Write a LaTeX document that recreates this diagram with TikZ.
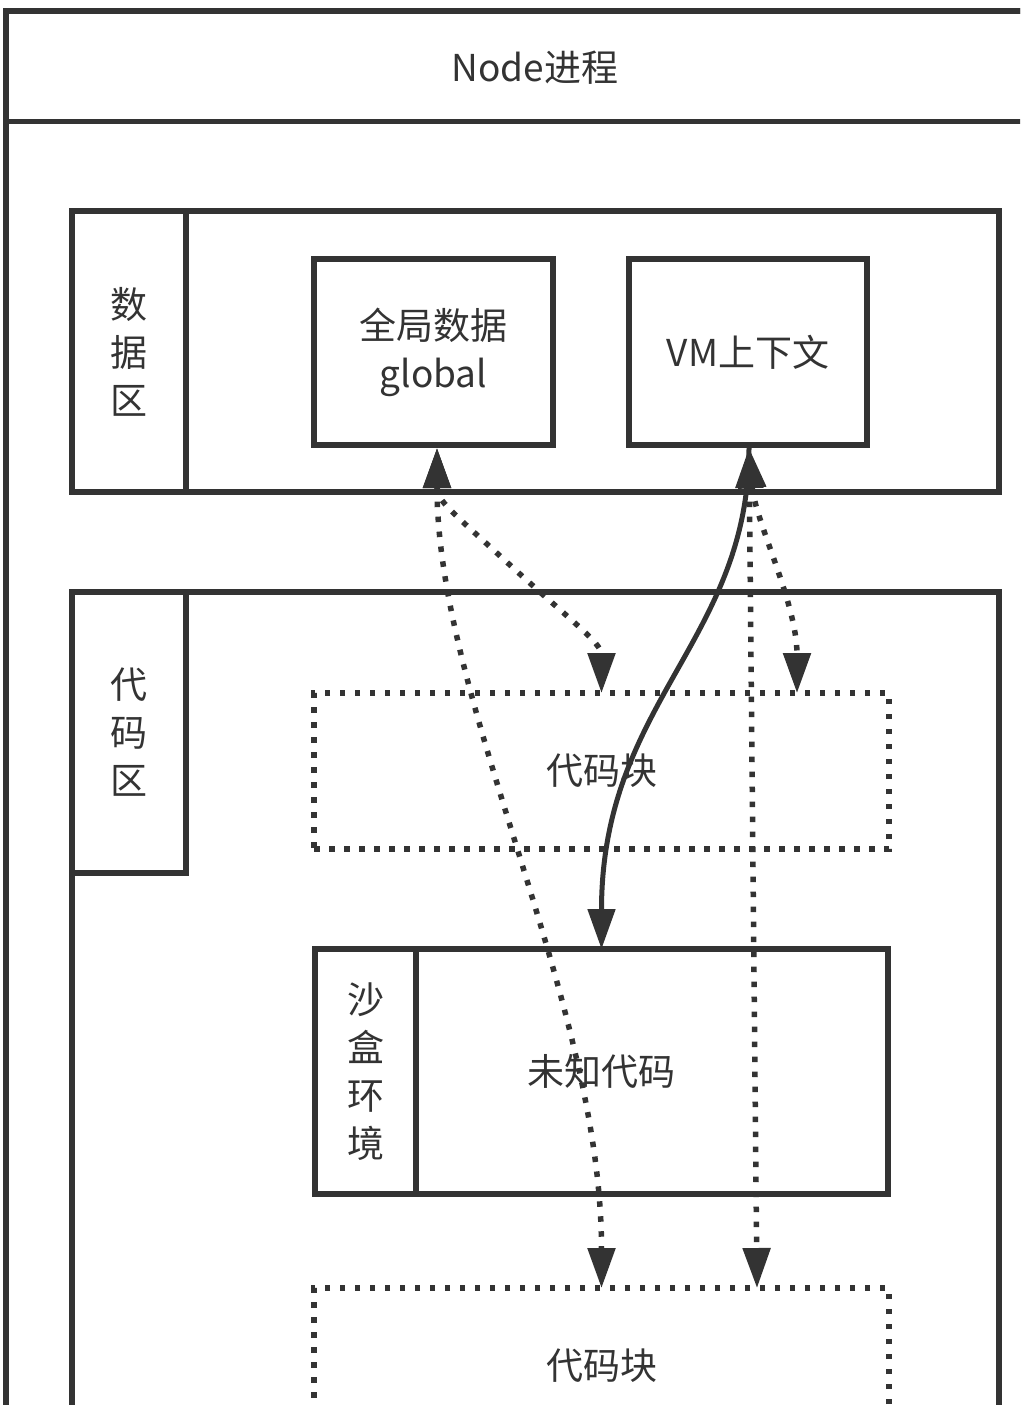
\documentclass[tikz,border=0pt]{standalone}
\usepackage{fontspec}
\setmainfont{Noto Sans CJK SC}
\usetikzlibrary{arrows.meta,calc}
\definecolor{ink}{HTML}{333333}
\begin{document}
\begin{tikzpicture}[x=1pt,y=-1pt,
  box/.style={draw=ink,line width=5.5pt,inner sep=0pt,outer sep=0pt,anchor=north west},
  dbox/.style={draw=ink,line width=5.5pt,dash pattern=on 5.5pt off 9.5pt,inner sep=0pt,outer sep=0pt,anchor=north west},
  lbl/.style={text=ink,font=\fontsize{37}{48}\selectfont,align=center,inner sep=0pt},
  tipT/.tip={Triangle[length=40pt,width=27pt]},
  dline/.style={draw=ink,line width=5.5pt,dash pattern=on 5.5pt off 9.5pt,{tipT}-{tipT}},
  sline/.style={draw=ink,line width=5pt,-{tipT}}
]
\useasboundingbox (0,0) rectangle (1020,1405);
\clip (0,0) rectangle (1020,1405);
% outer Node process box
\node[box,minimum width=1040pt,minimum height=1500pt] (outer) at (6,11) {};
\node[box,minimum width=1040pt,minimum height=110.5pt] (head) at (6,11) {};
\node[lbl] (title) at (535,68) {Node进程};
% data region
\node[box,minimum width=927pt,minimum height=281pt] (data) at (72,211) {};
\node[box,minimum width=114pt,minimum height=281pt] (datatab) at (72,211) {};
\node[lbl] (datalbl) at (datatab.center) {数\\据\\区};
\node[box,minimum width=239pt,minimum height=186pt] (g) at (314,259) {};
\node[lbl] (gl) at (g.center) {全局数据\\global};
\node[box,minimum width=238pt,minimum height=186pt] (vm) at (629,259) {};
\node[lbl] (vml) at (vm.center) {VM上下文};
% code region
\node[box,minimum width=927pt,minimum height=900pt] (code) at (72,592) {};
\node[box,minimum width=114pt,minimum height=281pt] (codetab) at (72,592) {};
\node[lbl] (codelbl) at (codetab.center) {代\\码\\区};
\node[dbox,minimum width=575pt,minimum height=156pt] (cb1) at (314,693) {};
\node[lbl] (cb1l) at (cb1.center) {代码块};
\node[box,minimum width=573pt,minimum height=245pt] (sb) at (315,949) {};
\node[box,minimum width=101pt,minimum height=245pt] (sbtab) at (315,949) {};
\node[lbl] (sbtabl) at (sbtab.center) {沙\\盒\\环\\境};
\node[lbl] (sbl) at (sb.center) {未知代码};
\node[dbox,minimum width=575pt,minimum height=156pt] (cb2) at (314,1288) {};
\node[lbl] (cb2l) at (cb2.center) {代码块};
% connectors
\coordinate (gS) at ([xshift=3.5pt,yshift=-3pt]g.south);
\coordinate (vS) at ([xshift=1pt,yshift=-3pt]vm.south);
\coordinate (gmid) at (510,565);
\path[dline] (gS) .. controls +(0,53) and +(-60,-55) .. (gmid)
   .. controls +(60,55) and +(0,-50) .. (cb1.north);
\path[dline] (gS) .. controls +(0,253) and +(0,-287) .. (cb2.north);
\path[dline] (vS) .. controls +(6,73) and +(0,-90) .. ([xshift=195.5pt]cb1.north);
\path[dline] (vS) -- ([xshift=155.5pt]cb2.north);
\path[sline] (vS) .. controls +(0,193) and +(0,-247) .. (sb.north);
\end{tikzpicture}
\end{document}
